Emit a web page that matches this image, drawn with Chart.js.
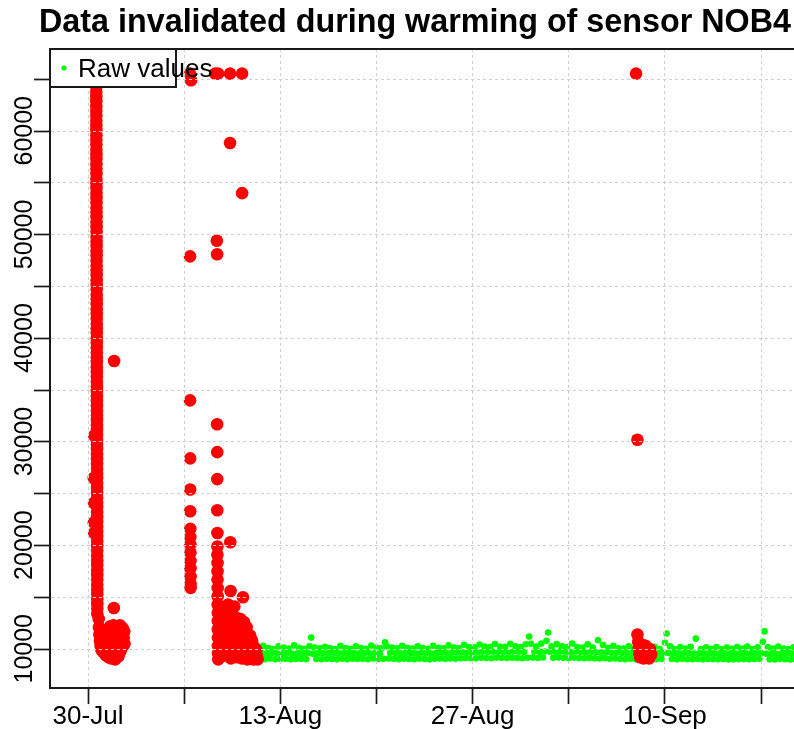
<!DOCTYPE html>
<html>
<head>
<meta charset="utf-8">
<script src="https://cdn.jsdelivr.net/npm/chart.js@4.4.1/dist/chart.umd.min.js"></script>
<style>
  html, body { margin: 0; padding: 0; background: #ffffff; overflow: hidden; width: 794px; height: 729px; }
  canvas { display: block; }
</style>
</head>
<body>
<canvas id="c" width="830" height="729"></canvas>
<script>
const titleText = 'Data invalidated during warming of sensor NOB4';
const seriesLabel = 'Raw values';

// x values are days since 30-Jul 00:00
const xTickDays = [0, 7, 14, 21, 28, 35, 42, 49];
const xTickLabels = ['30-Jul', '', '13-Aug', '', '27-Aug', '', '10-Sep', ''];
const yTickValues = [10000, 15000, 20000, 25000, 30000, 35000, 40000, 45000, 50000, 55000, 60000, 65000];
const yTickLabels = ['10000', '', '20000', '', '30000', '', '40000', '', '50000', '', '60000', ''];

// Raw (valid) values, one every 3 hours starting 11-Aug 09:00 (day 12.375)
const greenStartDay = 12.375;
const greenStepDay = 0.125;
const greenValues = [
  10050, 9050, 9600, 10300, 9020, 9550, 10100, 9080, 9620, 10000, 9010, 9580,
  10250, 9040, 9560, 10150, 9060, 9610, 10050, 9000, 9540, 10350, 9030, 9590,
  10120, 9070, 9570, 10020, 9020, 9610, 10280, 11100, 9550, 10140, 9040, 9600,
  10060, 9010, 9580, 10220, 9050, 9620, 10080, 9030, 9560, 9990, 9000, 9590,
  10310, 9060, 9610, 10100, 9020, 9570, 10030, 9070, 9600, 10260, 9040, 9550,
  10090, 9050, 9620, 10010, 9010, 9580, 10330, 9080, 9600, 10150, 9030, 9570,
  10070, 9060, 10650, 10280, 9090, 9640, 10130, 9050, 9610, 10060, 9020, 9590,
  10320, 9070, 9630, 10110, 9040, 9600, 10040, 9010, 9570, 10270, 9060, 9620,
  10090, 9030, 9580, 10020, 9000, 9560, 10310, 9050, 9610, 10120, 9080, 9640,
  10060, 9040, 9590, 10350, 9090, 9630, 10150, 9070, 9660, 10100, 9110, 9680,
  10400, 9140, 9700, 10200, 9120, 9690, 10170, 9100, 9720, 10430, 9160, 9740,
  10230, 9130, 9710, 10190, 9110, 9730, 10480, 9170, 9750, 10240, 9150, 9720,
  10210, 9120, 9700, 10500, 9160, 9760, 10250, 9140, 9730, 10190, 9110, 9710,
  10460, 9150, 11200, 10500, 9170, 9750, 10240, 9130, 9720, 10520, 9180, 9760,
  10800, 11600, 9740, 10250, 9150, 9730, 10470, 9190, 9770, 10250, 9160, 9740,
  10180, 9130, 9710, 10530, 9170, 9760, 10200, 9120, 9700, 10140, 9110, 9690,
  10450, 9140, 9710, 10140, 9100, 9680, 10850, 9080, 9650, 10390, 9120, 9680,
  10100, 9060, 9630, 10320, 9090, 9640, 10070, 9040, 9610, 10050, 9020, 9600,
  10270, 9050, 9620, 10050, 9010, 9590, 10020, 9030, 9580, 10240, 9000, 9560,
  10060, 9040, 9600, 10210, 9020, 9570, 10000, 9050, 9590, 10600, 11500, 9610,
  10250, 9030, 9580, 10000, 9000, 9550, 10180, 9050, 9570, 10040, 9010, 9590,
  10220, 9020, 9560, 11000, 9040, 9580, 9990, 9000, 9540, 10160, 9030, 9570,
  10020, 9010, 9560, 10200, 9000, 9530, 9970, 9030, 9550, 10140, 8990, 9520,
  10010, 9000, 9550, 10190, 9020, 9570, 10050, 9040, 9580, 10240, 9010, 9560,
  10000, 9030, 9590, 10170, 9050, 9600, 10700, 11700, 9540, 10170, 9000, 9550,
  10040, 8990, 9520, 10230, 9050, 9590, 10040, 9010, 9550, 9990, 8990, 9530,
  10160, 9010, 9540, 10030, 9040, 9580, 10210, 9000, 9560, 10000, 9020, 9540,
  10180, 8990, 9520, 10040, 9030, 9570, 10200, 9010, 9550, 10010, 8990, 9530
];

// Invalidated: fast descent on 30-Jul, one reading per minute from day 0.60
const redDropStartDay = 0.60;
const redDropStepDay = 0.0007;
const redDropValues = [
  65535, 65535, 65200, 64750, 64300, 63800, 63350, 62900, 62400, 61950,
  61500, 61000, 60550, 60100, 59600, 59150, 58700, 58200, 57750, 57300,
  56800, 56350, 55900, 55400, 54950, 54500, 54000, 53550, 53100, 52600,
  52150, 51700, 51200, 50750, 50300, 49800, 49350, 48900, 48400, 47950,
  47500, 47000, 46550, 46100, 45600, 45150, 44700, 44200, 43750, 43300,
  42800, 42350, 41900, 41400, 40950, 40500, 40000, 39550, 39100, 38600,
  38150, 37700, 37200, 36750, 36300, 35800, 35350, 34900, 34400, 33950,
  33500, 33000, 32550, 32100, 31600, 31150, 30700, 30200, 29750, 29300,
  28800, 28350, 27900, 27400, 26950, 26500, 26000, 25550, 25100, 24600,
  24150, 23700, 23200, 22750, 22300, 21800, 21350, 20900, 20400, 19950,
  19500, 19000, 18550, 18100, 17600, 17150, 16700, 16200, 15750, 15300,
  14800, 14350, 13900, 13400
];

// Other invalidated readings (day since 30-Jul, value), same grouping per line
const redDays = [
  0.78, 0.80, 0.83, 0.87, 0.92, 0.98,
  0.45, 0.42, 0.44, 0.42, 0.45,
  1.05, 1.10, 1.18, 1.25, 1.30, 1.38, 1.45, 1.50, 1.55, 1.62,
  1.68, 1.72, 1.78, 1.85, 1.88, 1.90, 1.92, 1.98, 2.02, 2.08,
  2.12, 2.18, 2.22, 2.28, 2.32, 2.38, 2.42, 2.48, 2.52, 2.55,
  2.60, 2.64, 2.66,
  7.43, 7.50, 9.25, 9.47, 10.34, 11.22,
  7.43, 7.43, 7.44, 7.44, 7.44, 7.45, 7.45, 7.45, 7.46, 7.46,
  7.46, 7.47, 7.47, 7.47,
  9.38, 9.40, 9.40, 9.41, 9.41, 9.41, 9.42, 9.42, 9.42, 9.43,
  9.43, 9.43, 9.44, 9.44, 9.44, 9.45, 9.45, 9.45, 9.46, 9.46,
  9.47, 9.48,
  9.75, 9.80, 9.85, 9.90, 9.95, 10.00, 10.05, 10.34, 10.36, 10.38,
  10.20, 10.25, 10.30, 10.40, 10.45, 10.50, 10.55, 10.60, 10.65, 10.70,
  10.75, 10.80, 10.85, 10.90, 10.95, 11.00, 11.05, 11.10, 11.15, 11.22,
  11.28, 11.20, 11.25, 11.30, 11.35, 11.40, 11.45, 11.50, 11.55, 11.60,
  11.65, 11.70, 11.75, 11.80, 11.85, 11.90, 11.95, 12.00, 12.05, 12.10,
  12.15, 12.20, 12.25, 12.30, 12.35,
  39.90, 40.00, 40.00, 40.05, 40.10, 40.15, 40.20, 40.30, 40.35, 40.45,
  40.50, 40.60, 40.65, 40.75, 40.85, 40.90, 41.00
];
const redValues = [
  12900, 12100, 11400, 10800, 10300, 9900,
  30600, 26500, 24100, 22200, 21200,
  10600, 9700, 11200, 10100, 9400, 10800, 11900, 9200, 10400, 12200,
  9100, 11000, 9600, 12300, 13960, 37800, 10200, 9000, 11600, 9500,
  12100, 10700, 9300, 11400, 12300, 9800, 10900, 11800, 12000, 10300,
  11100, 11700, 10500,
  65535, 64900, 65535, 65535, 65535, 65535,
  47900, 34000, 28400, 25400, 23300, 21600, 20800, 20100, 19300, 18500,
  17800, 17000, 16300, 15900,
  49400, 48100, 31700, 29000, 26400, 23400, 21200, 19900, 19100, 18300,
  17500, 16700, 15900, 15100, 14300, 13500, 12700, 11900, 11100, 10300,
  9600, 9000,
  9300, 12600, 10800, 13800, 9500, 11700, 13200, 58840, 20300, 15600,
  14300, 10300, 12300, 9100, 13600, 11000, 9700, 12900, 14100, 10500,
  11900, 9200, 13000, 10900, 12400, 9500, 11600, 12900, 10100, 54000,
  15000, 9100, 12000, 10700, 12600, 9400, 11300, 10200, 12100, 9000,
  11000, 9800, 10500, 11300, 9200, 10100, 10800, 9500, 9000, 10200,
  9600, 9100, 9900, 9300, 9000,
  65535, 30200, 11400, 10700, 10100, 9500, 9200, 9700, 10400, 9100,
  9900, 10300, 9300, 9800, 9100, 10000, 9500
];

const FONT = "'Liberation Sans', Arial, Helvetica, sans-serif";
Chart.defaults.font.family = FONT;

const greenPts = greenValues.map((v, i) => ({ x: greenStartDay + i * greenStepDay, y: v }));
const redPts = redDropValues.map((v, i) => ({ x: redDropStartDay + i * redDropStepDay, y: v }))
  .concat(redValues.map((v, i) => ({ x: redDays[i], y: v })));

const rFrameLegend = {
  id: 'rFrameLegend',
  afterDraw(chart) {
    const { ctx, chartArea: a } = chart;
    ctx.save();
    ctx.strokeStyle = '#1a1a1a';
    ctx.lineWidth = 2;
    ctx.strokeRect(a.left, a.top, a.right - a.left, a.bottom - a.top);
    const lx = a.left, ly = a.top, lw = 126, lh = 38;
    ctx.fillStyle = '#ffffff';
    ctx.fillRect(lx, ly, lw, lh);
    ctx.strokeRect(lx, ly, lw, lh);
    const ds = chart.data.datasets[0];
    ctx.fillStyle = ds.pointBackgroundColor;
    ctx.beginPath();
    ctx.arc(lx + 14, ly + 19, 2.6, 0, Math.PI * 2);
    ctx.fill();
    ctx.fillStyle = '#000000';
    ctx.font = '26px ' + FONT;
    ctx.textBaseline = 'alphabetic';
    ctx.textAlign = 'left';
    ctx.fillText(ds.label, lx + 28, ly + 28);
    ctx.restore();
  }
};

const gridCommon = { color: '#cfcfcf', lineWidth: 1, tickColor: '#1a1a1a', tickWidth: 1.7, tickLength: 16, z: 1 };
const borderCommon = { display: true, color: '#1a1a1a', width: 2, dash: [3, 3], z: 1 };

new Chart(document.getElementById('c'), {
  type: 'scatter',
  data: {
    datasets: [
      { label: seriesLabel, data: greenPts, pointBackgroundColor: '#00ff00', backgroundColor: '#00ff00',
        pointBorderColor: '#00ff00', pointBorderWidth: 0, pointRadius: 3.3, pointHoverRadius: 3.3, order: 2 },
      { label: 'Invalidated', data: redPts, pointBackgroundColor: '#ff0000', backgroundColor: '#ff0000',
        pointBorderColor: '#ff0000', pointBorderWidth: 0, pointRadius: 6.3, pointHoverRadius: 6.3, order: 1 }
    ]
  },
  options: {
    responsive: false,
    animation: false,
    devicePixelRatio: 1,
    events: [],
    layout: { padding: 0, autoPadding: false },
    plugins: {
      legend: { display: false },
      tooltip: { enabled: false },
      title: {
        display: true, text: titleText, color: '#000000',
        font: { size: 32.3, weight: 'bold', lineHeight: 1.2 },
        padding: { top: 3.8, bottom: 6.44 }
      }
    },
    scales: {
      x: {
        type: 'linear', min: -2.767, max: 54.02,
        afterBuildTicks: s => { s.ticks = xTickDays.map(v => ({ value: v })); },
        afterFit: s => { s.height = 41; },
        ticks: { autoSkip: false, maxRotation: 0, minRotation: 0, color: '#000000', padding: 0,
                 font: { size: 26, lineHeight: 1 }, callback: (v, i) => xTickLabels[i] },
        grid: gridCommon,
        border: borderCommon
      },
      y: {
        type: 'linear', min: 6236, max: 67916,
        afterBuildTicks: s => { s.ticks = yTickValues.map(v => ({ value: v })); },
        afterFit: s => { s.width = 50; },
        ticks: { autoSkip: false, minRotation: 90, maxRotation: 90, crossAlign: 'near', labelOffset: -35,
                 padding: 9, color: '#000000', font: { size: 25, lineHeight: 1.2 },
                 callback: (v, i) => yTickLabels[i] },
        grid: gridCommon,
        border: borderCommon
      }
    }
  },
  plugins: [rFrameLegend]
});
</script>
</body>
</html>
